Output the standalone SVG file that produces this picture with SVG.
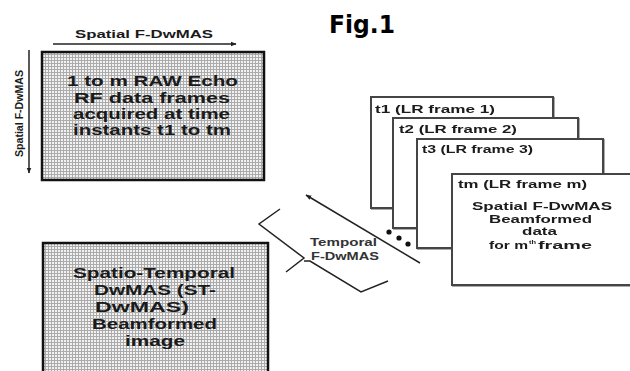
<svg xmlns="http://www.w3.org/2000/svg" width="630" height="371" viewBox="0 0 630 371">
  <style>
    .lbl { font-family: "Liberation Sans", Arial, sans-serif; font-weight: bold; fill: #1a1a1a; }
    .box { font-size: 14px; }
    .frm { font-size: 11px; }
    .axis { font-size: 10.5px; }
    .tmp { font-size: 10.5px; fill: #333; }
    .hatch { fill: url(#grid); stroke: #111; stroke-width: 2.5; }
    .frame { fill: #fff; stroke: #444; stroke-width: 2; }
    .conn { stroke: #222; stroke-width: 1.5; fill: none; }
  </style>
  <defs>
    <pattern id="grid" width="3" height="3" patternUnits="userSpaceOnUse">
      <rect width="3" height="3" fill="#f2f2f2"/>
      <path d="M0 0.5H3M0.5 0V3" stroke="#ababab" stroke-width="1"/>
    </pattern>
    <marker id="arr" viewBox="0 0 10 10" refX="9" refY="5" markerWidth="6" markerHeight="6" orient="auto-start-reverse" markerUnits="userSpaceOnUse">
      <path d="M0 1L10 5L0 9Z" fill="#222"/>
    </marker>
    <filter id="sh" x="-5%" y="-5%" width="115%" height="115%">
      <feDropShadow dx="1" dy="1" stdDeviation="0.6" flood-color="#888" flood-opacity="0.7"/>
    </filter>
  </defs>

  <rect width="630" height="371" fill="#fff"/>

  <text x="329" y="33" textLength="66" lengthAdjust="spacingAndGlyphs" style="font-family:'DejaVu Sans',Verdana,sans-serif;font-weight:bold;font-size:24px;fill:#000">Fig.1</text>

  <!-- raw echo frames -->
  <g id="raw-frames">
    <rect class="hatch" x="42" y="52" width="222" height="128"/>
    <text class="lbl box" x="67" y="86" textLength="171" lengthAdjust="spacingAndGlyphs">1 to m RAW Echo</text>
    <text class="lbl box" x="74" y="103" textLength="156" lengthAdjust="spacingAndGlyphs">RF data frames</text>
    <text class="lbl box" x="73" y="119" textLength="157" lengthAdjust="spacingAndGlyphs">acquired at time</text>
    <text class="lbl box" x="73" y="135" textLength="158" lengthAdjust="spacingAndGlyphs">instants t1 to tm</text>
  </g>

  <!-- spatio-temporal output image -->
  <g id="st-image">
    <rect class="hatch" x="43" y="243" width="225" height="140"/>
    <text class="lbl box" x="73" y="278" textLength="162" lengthAdjust="spacingAndGlyphs">Spatio-Temporal</text>
    <text class="lbl box" x="94" y="295" textLength="122" lengthAdjust="spacingAndGlyphs">DwMAS (ST-</text>
    <text class="lbl box" x="95" y="312" textLength="94" lengthAdjust="spacingAndGlyphs">DwMAS)</text>
    <text class="lbl box" x="92" y="329" textLength="125" lengthAdjust="spacingAndGlyphs">Beamformed</text>
    <text class="lbl box" x="125" y="346" textLength="60" lengthAdjust="spacingAndGlyphs">image</text>
  </g>

  <!-- low-resolution frame stack -->
  <g id="frame-1" filter="url(#sh)">
    <rect class="frame" x="371" y="97" width="182" height="111"/>
    <text class="lbl frm" x="375" y="113" textLength="120" lengthAdjust="spacingAndGlyphs">t1 (LR frame 1)</text>
  </g>
  <g id="frame-2" filter="url(#sh)">
    <rect class="frame" x="393" y="118" width="185" height="110"/>
    <text class="lbl frm" x="399" y="133" textLength="118" lengthAdjust="spacingAndGlyphs">t2 (LR frame 2)</text>
  </g>
  <g id="frame-3" filter="url(#sh)">
    <rect class="frame" x="417" y="139" width="186" height="109"/>
    <text class="lbl frm" x="422" y="153" textLength="111" lengthAdjust="spacingAndGlyphs">t3 (LR frame 3)</text>
  </g>
  <g id="frame-m" filter="url(#sh)">
    <rect class="frame" x="452" y="174" width="190" height="111"/>
    <text class="lbl frm" x="458" y="188" textLength="129" lengthAdjust="spacingAndGlyphs">tm (LR frame m)</text>
    <text class="lbl frm" x="472" y="210" textLength="140" lengthAdjust="spacingAndGlyphs">Spatial F-DwMAS</text>
    <text class="lbl frm" x="489" y="223" textLength="103" lengthAdjust="spacingAndGlyphs">Beamformed</text>
    <text class="lbl frm" x="522" y="235" textLength="35" lengthAdjust="spacingAndGlyphs">data</text>
    <text class="lbl frm" x="489" y="249" textLength="39" lengthAdjust="spacingAndGlyphs">for m</text>
    <text class="lbl" x="529" y="244" font-size="6" textLength="7" lengthAdjust="spacingAndGlyphs">th</text>
    <text class="lbl frm" x="538" y="249" textLength="54" lengthAdjust="spacingAndGlyphs">frame</text>
  </g>

  <!-- connectors -->
  <g id="connectors">
    <line class="conn" x1="53" y1="44" x2="236" y2="44" marker-end="url(#arr)"/>
    <line class="conn" x1="29" y1="50" x2="29" y2="173" marker-end="url(#arr)"/>
    <line class="conn" x1="420" y1="263" x2="306" y2="195" marker-end="url(#arr)"/>
    <circle cx="389" cy="232" r="2.6" fill="#111"/>
    <circle cx="399" cy="238" r="2.6" fill="#111"/>
    <circle cx="408" cy="244" r="2.6" fill="#111"/>
    <path class="conn" d="M280 209L259 224L304 258L286 272M304 261L310 261L361 292L388 281" stroke-width="1.3"/>
    <text class="lbl axis" x="75" y="38" textLength="138" lengthAdjust="spacingAndGlyphs">Spatial F-DwMAS</text>
    <text class="lbl axis" transform="translate(23,157) rotate(-90)" x="0" y="0" textLength="87" lengthAdjust="spacingAndGlyphs">Spatial F-DwMAS</text>
    <text class="lbl tmp" x="310" y="246" textLength="67" lengthAdjust="spacingAndGlyphs">Temporal</text>
    <text class="lbl tmp" x="311" y="260" textLength="68" lengthAdjust="spacingAndGlyphs">F-DwMAS</text>
  </g>
</svg>
